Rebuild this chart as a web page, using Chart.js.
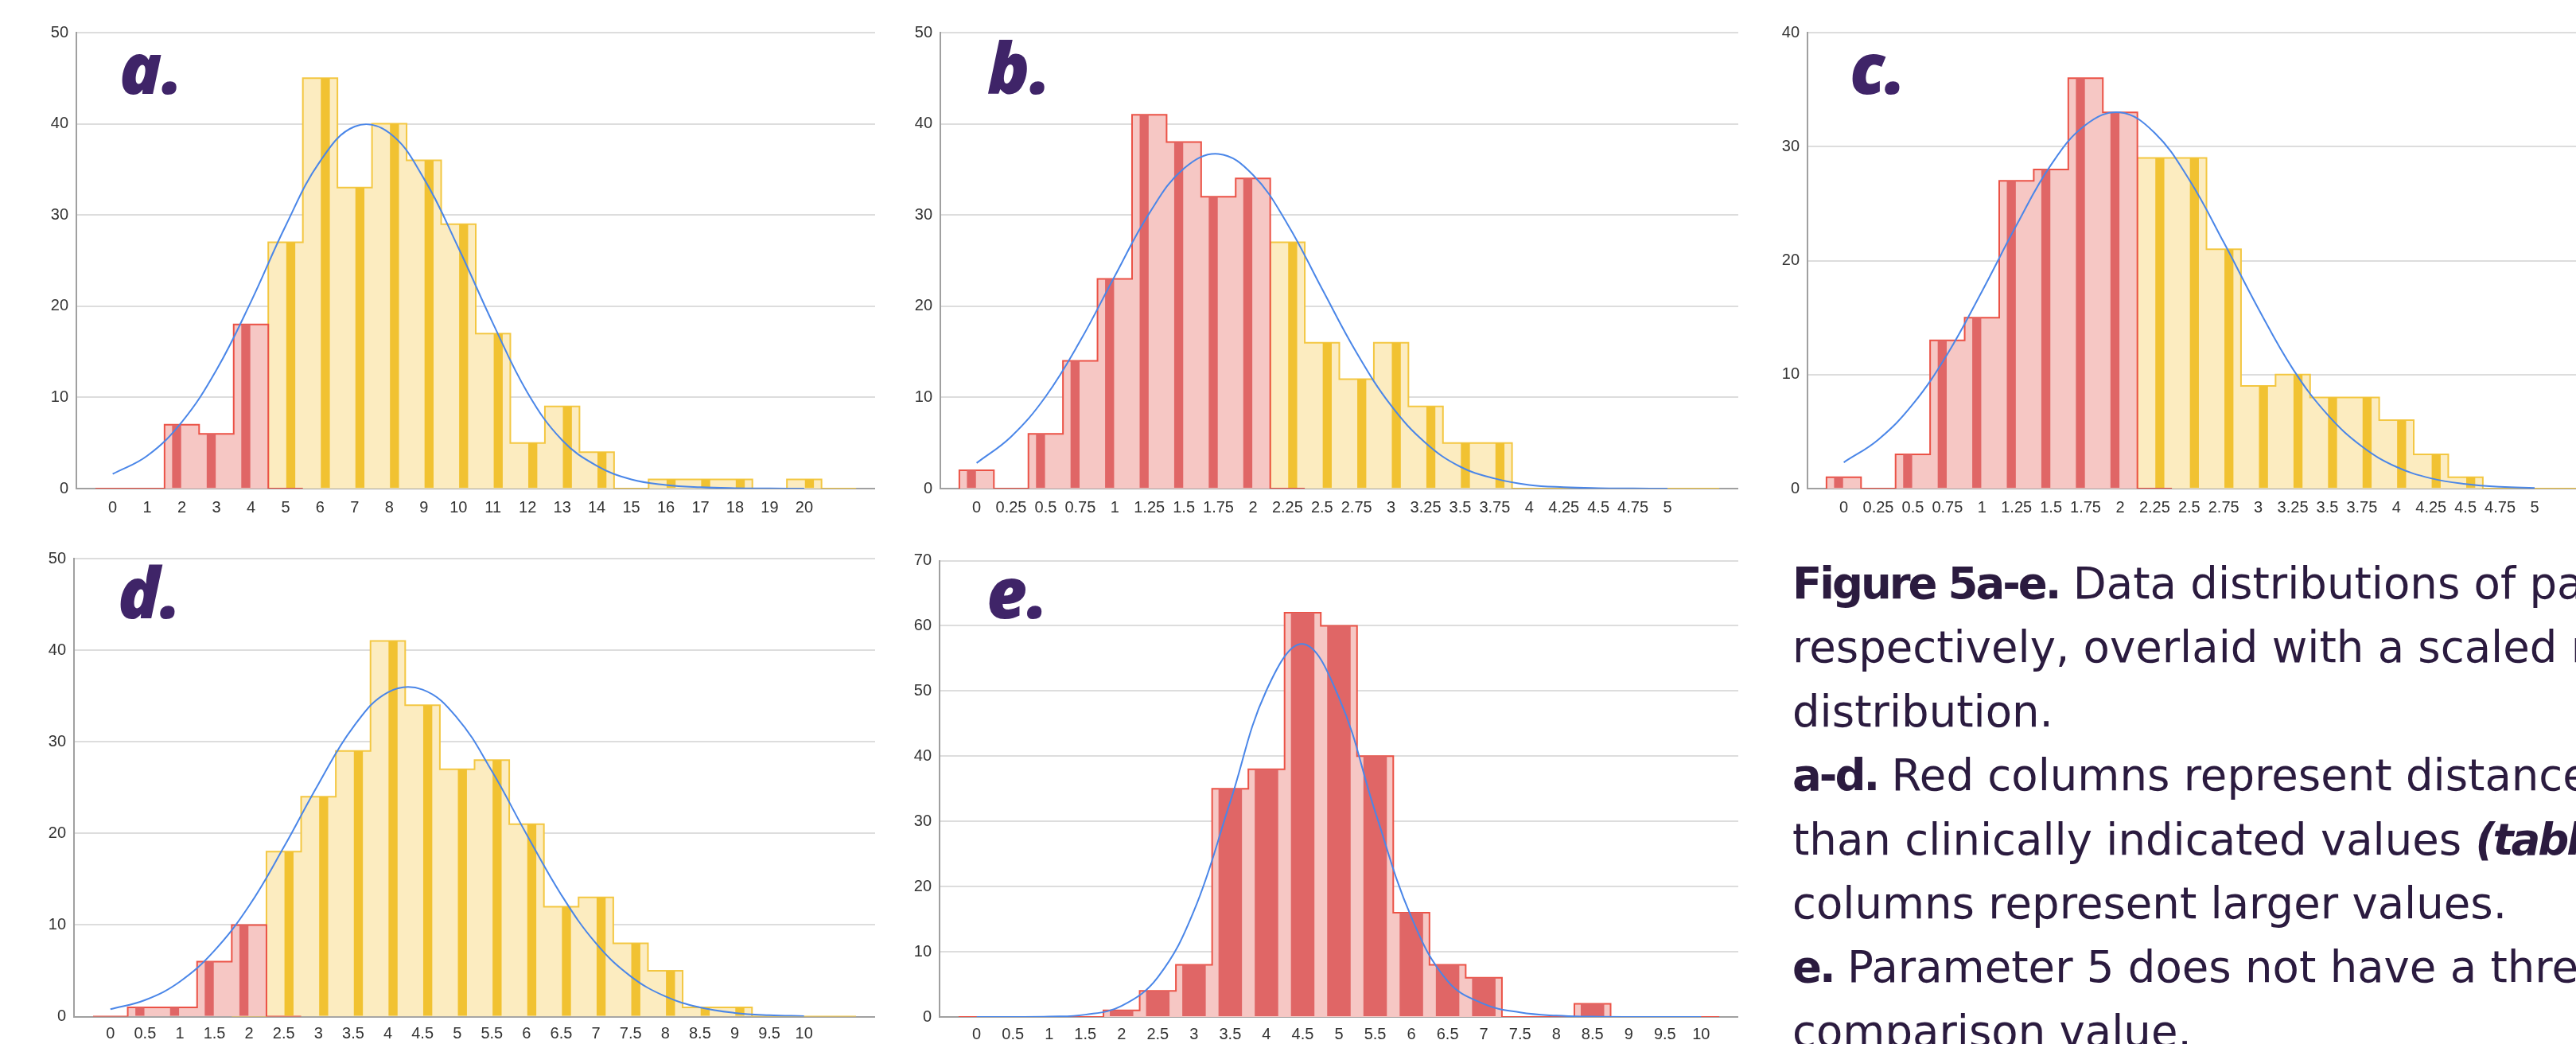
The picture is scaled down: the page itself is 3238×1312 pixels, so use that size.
<!DOCTYPE html>
<html>
<head>
<meta charset="utf-8">
<script src="https://cdn.jsdelivr.net/npm/chart.js@4.4.1/dist/chart.umd.min.js"></script>
<style>
  html, body { margin: 0; padding: 0; background: #fff; }
  body { width: 3238px; height: 1312px; overflow: hidden; position: relative; }
  .panel { position: absolute; }
  .tag {
    position: absolute; line-height: 1; font-size: 88px;
    font-family: "Open Sans", sans-serif; font-style: italic; font-weight: 800;
    color: #3f2468;
  }
  #caption {
    position: absolute; left: 2253px; top: 693px;
    font-family: "DejaVu Sans", sans-serif; font-size: 54.5px; line-height: 80.4px;
    color: #2b1b3f; white-space: nowrap;
  }
  #caption b { font-weight: 700; letter-spacing: -3px; }
</style>
</head>
<body>

<div class="panel" style="left:0px;top:0px"><canvas id="chartA" width="1100" height="660"></canvas></div>
<div class="panel" style="left:1085px;top:0px"><canvas id="chartB" width="1100" height="660"></canvas></div>
<div class="panel" style="left:2175px;top:0px"><canvas id="chartC" width="1100" height="660"></canvas></div>
<div class="panel" style="left:0px;top:660px"><canvas id="chartD" width="1100" height="652"></canvas></div>
<div class="panel" style="left:1085px;top:660px"><canvas id="chartE" width="1100" height="652"></canvas></div>

<div class="tag" style="left:150px;top:40px">a.</div>
<div class="tag" style="left:1241px;top:40px">b.</div>
<div class="tag" style="left:2325px;top:40px">c.</div>
<div class="tag" style="left:148px;top:699px">d.</div>
<div class="tag" style="left:1240px;top:699px">e.</div>

<div id="caption">
  <div><b>Figure 5a-e.</b> Data distributions of parameters 1-5</div>
  <div>respectively, overlaid with a scaled normal</div>
  <div>distribution.</div>
  <div><b>a-d.</b> Red columns represent distances smaller</div>
  <div>than clinically indicated values <b><i>(table 1)</i></b>, yellow</div>
  <div>columns represent larger values.</div>
  <div><b>e.</b> Parameter 5 does not have a threshold</div>
  <div>comparison value.</div>
</div>

<script>
// tick labels (one per bin, last bin of a-d has no label)
const aLabels = ['0','1','2','3','4','5','6','7','8','9','10','11','12','13','14','15','16','17','18','19','20']
const bLabels = ['0','0.25','0.5','0.75','1','1.25','1.5','1.75','2','2.25','2.5','2.75','3','3.25','3.5','3.75','4','4.25','4.5','4.75','5']
const cLabels = ['0','0.25','0.5','0.75','1','1.25','1.5','1.75','2','2.25','2.5','2.75','3','3.25','3.5','3.75','4','4.25','4.5','4.75','5']
const dLabels = ['0','0.5','1','1.5','2','2.5','3','3.5','4','4.5','5','5.5','6','6.5','7','7.5','8','8.5','9','9.5','10']
const eLabels = ['0','0.5','1','1.5','2','2.5','3','3.5','4','4.5','5','5.5','6','6.5','7','7.5','8','8.5','9','9.5','10']

// counts per bin
const aCounts = [0,0,7,6,18,27,45,33,40,36,29,17,5,9,4,0,1,1,1,0,1,0]
const bCounts = [2,0,6,14,23,41,38,32,34,27,16,12,16,9,5,5,0,0,0,0,0,0]
const cCounts = [1,0,3,13,15,27,28,36,33,29,29,21,9,10,8,8,6,3,1,0,0,0]
const dCounts = [0,1,1,6,10,18,24,29,41,34,27,28,21,12,13,8,5,1,1,0,0,0]
const eCounts = [0,0,0,0,1,4,8,35,38,62,60,40,16,8,6,0,0,2,0,0,0]

// number of leading bins drawn red (below the clinical threshold)
const aRedBins = 5
const bRedBins = 9
const cRedBins = 9
const dRedBins = 5
const eRedBins = 21

// scaled normal curve, read at each labelled bin
const aCurve = [1.6,3.6,7.3,13.0,20.5,28.8,35.9,39.7,39.0,34.0,26.4,18.1,10.5,5.3,2.5,1.0,0.4,0.15,0.05,0.02,0]
const bCurve = [2.8,5.7,10.1,16.2,23.3,30.2,35.1,36.7,34.4,29.0,21.9,14.9,9.1,5.0,2.4,1.1,0.4,0.15,0.05,0.02,0]
const cCurve = [2.3,4.3,7.4,11.8,17.3,23.1,28.4,31.9,33.0,31.2,27.1,21.6,15.8,10.5,6.5,3.7,1.9,0.9,0.4,0.15,0.06]
const dCurve = [0.8,1.8,3.8,7.2,12.1,18.5,25.4,31.6,35.4,35.7,32.6,26.8,19.9,13.3,8.0,4.4,2.2,1.0,0.4,0.15,0.05]
const eCurve = [0,0.01,0.06,0.35,1.7,6.1,16.3,33.0,50.1,57.2,49.0,31.5,15.3,5.5,2.0,0.7,0.2,0.05,0,0,0]

const RED_BAR = '#e06666', RED_FILL = '#f6c7c4', RED_LINE = '#eb5246'
const YEL_BAR = '#f1c232', YEL_FILL = '#fcecc0', YEL_LINE = '#f3c742'
const BLUE = '#4a86e8'
const tickFont = {family: '"Liberation Sans", Arial, sans-serif', size: 20}

function stepPoints(vals, from, to) {
    let pts = [{x: from - 0.5, y: 0}]
    for (let i = from; i <= to; i++)
        pts.push({x: i - 0.5, y: vals[i]})
    pts.push({x: to + 0.5, y: vals[to]})
    pts.push({x: to + 0.5, y: 0})
    return pts
}

function histChart(id, labels, counts, redBins, curve, yMax, lay) {
    let n = counts.length
    let redVals = counts.map((v, i) => i < redBins ? v : 0)
    let yelVals = counts.map((v, i) => i >= redBins ? v : 0)

    let datasets = []
    datasets.push({
        type: 'line', label: 'normal', order: 0,
        data: curve.map((v, i) => ({x: i, y: v})),
        borderColor: BLUE, borderWidth: 2, pointRadius: 0, fill: false,
        tension: 0.4
    })

    let redBarData = [], yelBarData = []
    for (let i = 0; i < n; i++) {
        if (i < redBins) redBarData.push({x: i, y: counts[i]})
        else yelBarData.push({x: i, y: counts[i]})
    }
    datasets.push({
        type: 'bar', label: 'red', order: 1, data: redBarData,
        backgroundColor: RED_BAR, borderWidth: 0,
        categoryPercentage: lay.catPct, barPercentage: lay.barPct
    })
    if (redBins < n) {
        datasets.push({
            type: 'bar', label: 'yellow', order: 1, data: yelBarData,
            backgroundColor: YEL_BAR, borderWidth: 0,
            categoryPercentage: lay.catPct, barPercentage: lay.barPct
        })
    }

    datasets.push({
        type: 'line', label: 'redArea', order: 2,
        data: stepPoints(redVals, 0, Math.min(redBins, n - 1)),
        stepped: 'before', borderColor: RED_LINE, borderWidth: 2,
        backgroundColor: RED_FILL, fill: 'origin', pointRadius: 0
    })
    if (redBins < n) {
        datasets.push({
            type: 'line', label: 'yellowArea', order: 2,
            data: stepPoints(yelVals, Math.max(redBins - 1, 0), n - 1),
            stepped: 'before', borderColor: YEL_LINE, borderWidth: 2,
            backgroundColor: YEL_FILL, fill: 'origin', pointRadius: 0
        })
    }

    const config = {
        type: 'bar',
        data: {datasets: datasets},
        options: {
            responsive: false,
            animation: false,
            layout: {padding: {top: lay.top, left: 0, right: 0, bottom: 0}},
            plugins: {legend: {display: false}, tooltip: {enabled: false}},
            scales: {
                x: {
                    type: 'linear', min: -0.5, max: n - 0.5,
                    afterBuildTicks: (s) => { s.ticks = labels.map((l, i) => ({value: i})) },
                    afterFit: (s) => { s.height = lay.xHeight },
                    ticks: {
                        autoSkip: false, maxRotation: 0, minRotation: 0,
                        padding: lay.tickPad, color: '#333', font: tickFont,
                        callback: (v) => labels[v] ?? ''
                    },
                    grid: {display: false, drawTicks: false},
                    border: {display: true, color: '#a0a0a0', width: 2}
                },
                y: {
                    min: 0, max: yMax,
                    afterFit: (s) => { s.width = lay.yWidth },
                    ticks: {stepSize: 10, padding: 10, color: '#333', font: tickFont},
                    grid: {color: '#dddddd', lineWidth: 2, drawTicks: false},
                    border: {display: true, color: '#a0a0a0', width: 2}
                }
            }
        }
    }

    let ctx = document.getElementById(id).getContext('2d')
    new Chart(ctx, config)
}

const topRow = {top: 41, xHeight: 46, yWidth: 96, tickPad: 12, catPct: 0.6, barPct: 0.87}

histChart('chartA', aLabels, aCounts, aRedBins, aCurve, 50, topRow)
histChart('chartB', bLabels, bCounts, bRedBins, bCurve, 50, {...topRow, yWidth: 97})
histChart('chartC', cLabels, cCounts, cRedBins, cCurve, 40, {...topRow, yWidth: 97})
histChart('chartD', dLabels, dCounts, dRedBins, dCurve, 50,
    {top: 42, xHeight: 34.5, yWidth: 93, tickPad: 10, catPct: 0.6, barPct: 0.87})
histChart('chartE', eLabels, eCounts, eRedBins, eCurve, 70,
    {top: 44.5, xHeight: 34, yWidth: 96, tickPad: 10, catPct: 0.72, barPct: 0.9})
</script>
</body>
</html>
